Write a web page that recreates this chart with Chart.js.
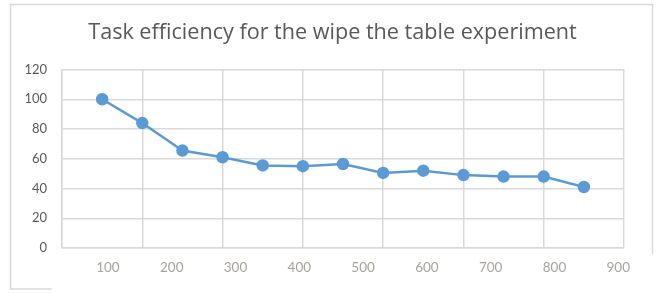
<!DOCTYPE html>
<html>
<head>
<meta charset="utf-8">
<script src="https://cdn.jsdelivr.net/npm/chart.js@4"></script>
<style>
  html, body { margin: 0; padding: 0; background: #fff; }
  #wrap { width: 659px; height: 293px; }
</style>
</head>
<body>
<div id="wrap"><canvas id="effChart" width="659" height="293"></canvas></div>
<script>
/* ===== Task efficiency chart ===== */

const chartTitle = 'Task efficiency for the wipe the table experiment';
const trial = [1, 2, 3, 4, 5, 6, 7, 8, 9, 10, 11, 12, 13];
const efficiency = [100, 84, 65.5, 61, 55.5, 55, 56.5, 50.5, 52, 49, 48, 48, 41];
const xTickLabels = [100, 200, 300, 400, 500, 600, 700, 800, 900];
const yTicks = [0, 20, 40, 60, 80, 100, 120];

const GRID = '#d9d9d9';
const TEXT = '#595959';
const BLUE = '#5b9bd5';
const FONT = 'Lato';

// light frame round the chart, cropped like the original screenshot
const framePlugin = {
  id: 'frame',
  beforeDraw(chart) {
    const ctx = chart.ctx;
    ctx.save();
    ctx.strokeStyle = GRID;
    ctx.lineWidth = 1.5;
    ctx.beginPath();
    ctx.moveTo(52, 289);
    ctx.lineTo(10.5, 289);
    ctx.lineTo(10.5, 4.5);
    ctx.lineTo(652.5, 4.5);
    ctx.lineTo(652.5, 254);
    ctx.stroke();
    ctx.restore();
  }
};

const ctx = document.getElementById('effChart').getContext('2d');
const effChart = new Chart(ctx, {
  type: 'line',
  data: {
    datasets: [{
      data: trial.map((t, i) => ({ x: t, y: efficiency[i] })),
      borderColor: BLUE,
      backgroundColor: BLUE,
      borderWidth: 2.5,
      pointRadius: 5,
      pointHoverRadius: 5,
      tension: 0,
      xAxisID: 'x',
      yAxisID: 'y'
    }]
  },
  options: {
    responsive: false,
    animation: false,
    layout: { padding: { left: 6, right: 0, top: 0, bottom: 0 } },
    plugins: {
      legend: { display: false },
      tooltip: { enabled: false },
      title: {
        display: true,
        text: chartTitle,
        color: TEXT,
        font: { family: 'Open Sans', size: 21.6, weight: 'normal' },
        padding: { top: 20, bottom: 23.6 }
      }
    },
    scales: {
      x: {
        type: 'linear',
        position: 'bottom',
        weight: 0,
        min: 0,
        max: 14,
        ticks: { display: false, stepSize: 2 },
        grid: { color: GRID, lineWidth: 1.5, drawTicks: false },
        border: { color: GRID, width: 1.5 },
        afterFit: axis => { axis.height = 0; }
      },
      xl: {
        type: 'linear',
        axis: 'x',
        position: 'bottom',
        weight: 1,
        min: 28,
        max: 909,
        afterBuildTicks: axis => { axis.ticks = xTickLabels.map(v => ({ value: v })); },
        ticks: { color: '#a9a39c', font: { family: FONT, size: 13.5 }, padding: 12, maxRotation: 0, autoSkip: false },
        grid: { display: false, drawTicks: false },
        border: { display: false },
        afterFit: axis => { axis.height = 45; }
      },
      y: {
        min: 0,
        max: 120,
        afterBuildTicks: axis => { axis.ticks = yTicks.map(v => ({ value: v })); },
        ticks: { color: TEXT, font: { family: FONT, size: 13 }, padding: 15 },
        grid: { color: GRID, lineWidth: 1.5, drawTicks: false },
        border: { color: GRID, width: 1.5 },
        afterFit: axis => { axis.width = 56; }
      },
      // empty right axis, keeps the gap to the right of the plot
      yr: {
        type: 'linear',
        axis: 'y',
        position: 'right',
        ticks: { display: false },
        grid: { display: false, drawTicks: false },
        border: { display: false },
        afterFit: axis => { axis.width = 35; }
      }
    }
  },
  plugins: [framePlugin]
});
</script>
</body>
</html>
